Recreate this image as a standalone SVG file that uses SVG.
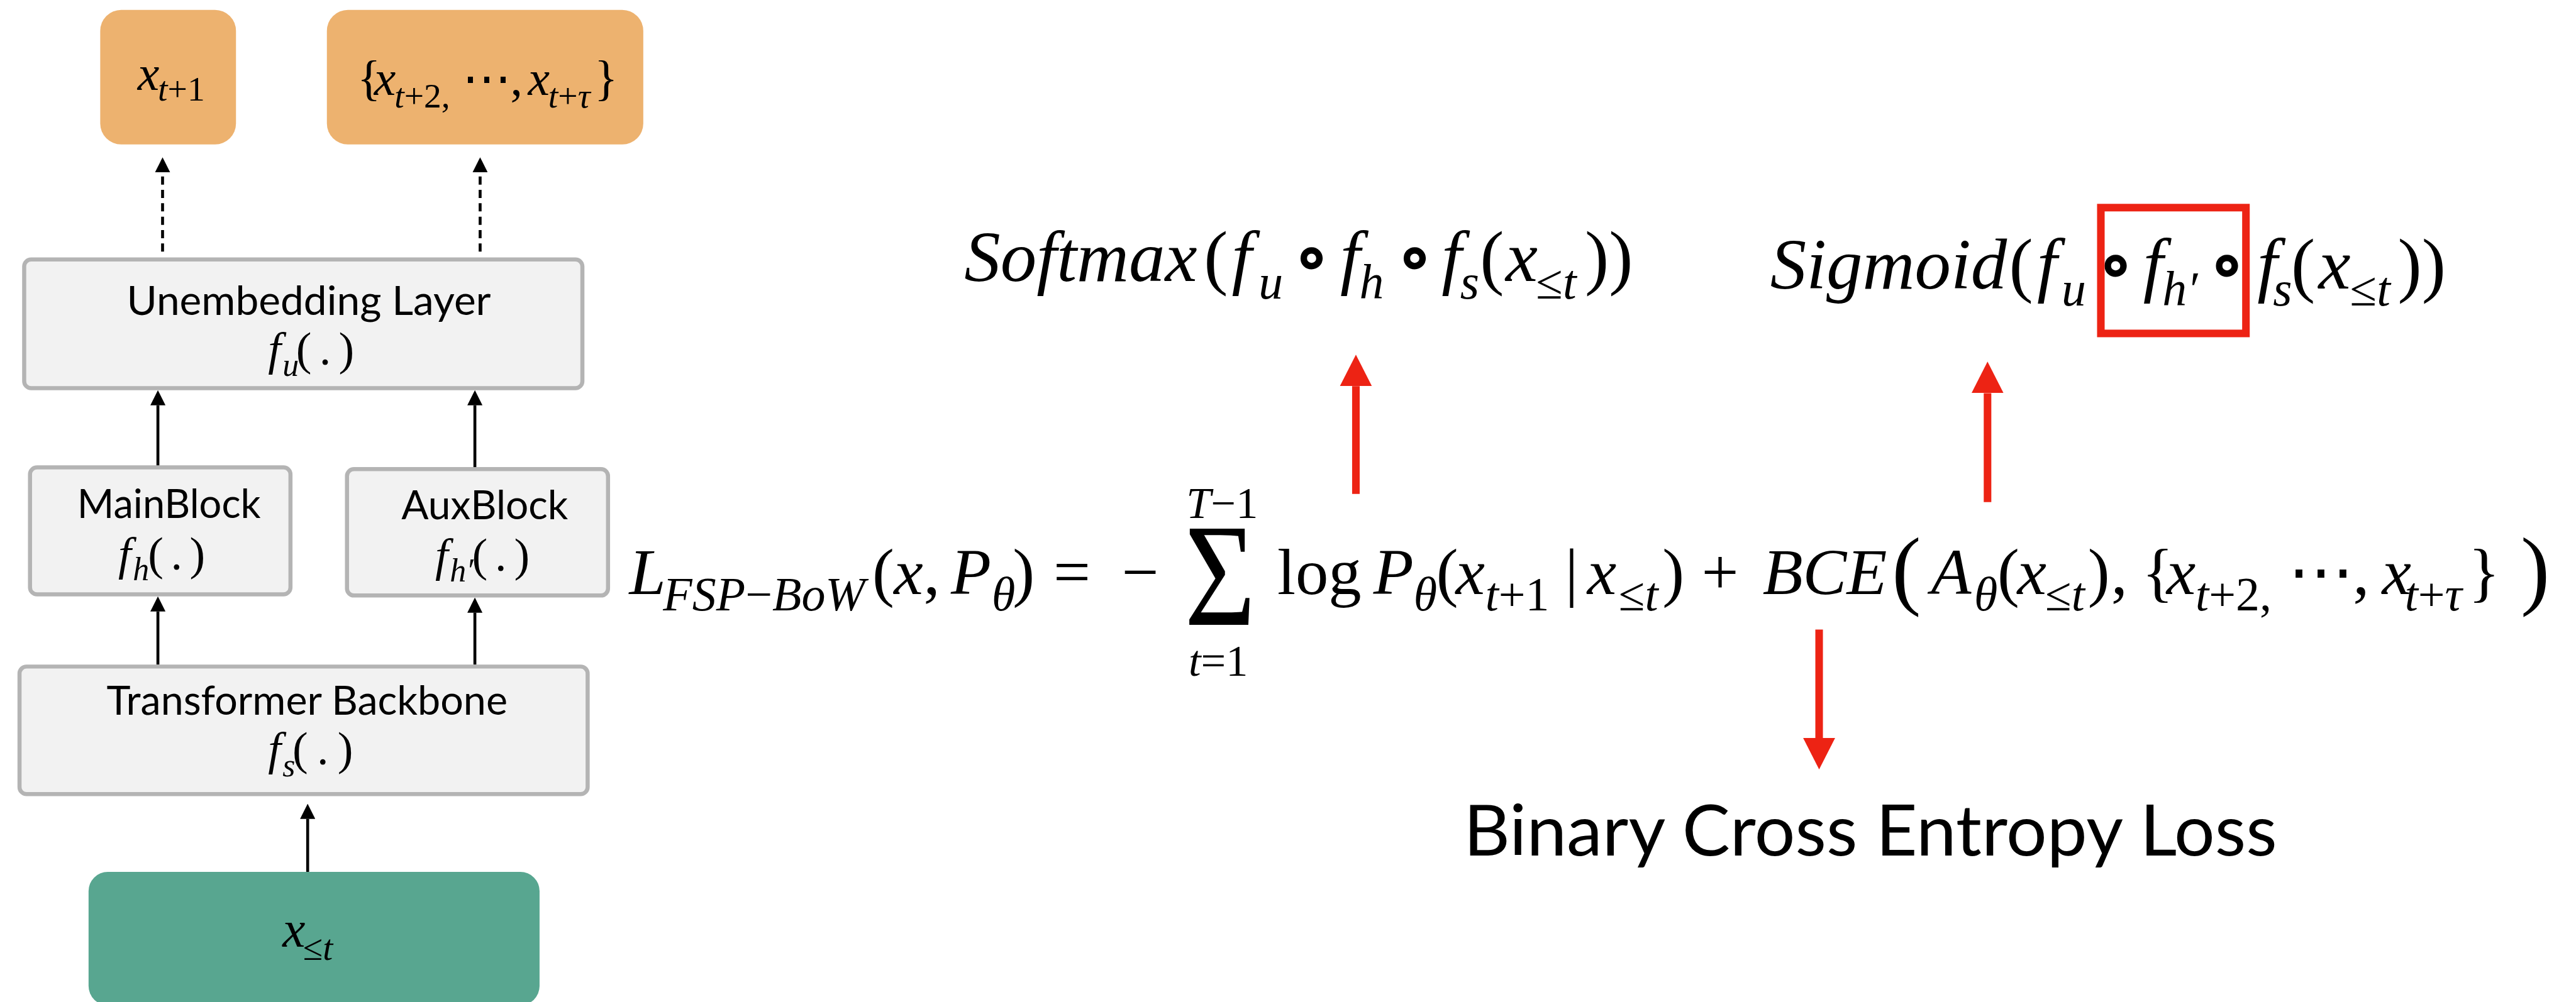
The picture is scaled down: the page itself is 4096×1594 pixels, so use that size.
<svg xmlns="http://www.w3.org/2000/svg" width="4096" height="1594" viewBox="0 0 4096 1594">
<style>
.box{fill:#F2F2F2;stroke:#B4B4B4;stroke-width:7}
.out{fill:#EDB26F}
.inp{fill:#58A690}
.sans{font-family:Lato,"Noto Sans","DejaVu Sans",sans-serif;fill:#000}
.m{font-family:"Liberation Serif","Times New Roman","DejaVu Serif",serif;fill:#000}
.i{font-style:italic}
.arr{stroke:#000;stroke-width:5;fill:none}
.dash{stroke-dasharray:14 9}
.red{stroke:#ED2314;stroke-width:13;fill:none}
</style>
<defs>
<marker id="ah" viewBox="0 0 26 26" refX="0" refY="13" markerWidth="26" markerHeight="26" markerUnits="userSpaceOnUse" orient="auto"><path d="M0,0 L26,13 L0,26 z" fill="#000"/></marker>
<marker id="rh" viewBox="0 0 54 55" refX="0" refY="27.5" markerWidth="54" markerHeight="55" markerUnits="userSpaceOnUse" orient="auto"><path d="M0,0 L54,27.5 L0,55 z" fill="#ED2314"/></marker>
</defs>
<rect width="4096" height="1594" fill="#fff"/>
<g transform="scale(0.9265)">
<g id="out-next">
<rect class="out" x="172" y="17" width="233" height="231" rx="36"/>
<text class="m" font-size="84" y="154"><tspan x="236" class="i">x</tspan></text>
<text class="m" font-size="60" y="173"><tspan x="271" class="i">t</tspan><tspan>+1</tspan></text>
</g>
<g id="out-bag">
<rect class="out" x="561" y="17" width="543" height="231" rx="36"/>
<text class="m" font-size="84" y="163"><tspan x="613">{</tspan><tspan x="642" class="i">x</tspan></text>
<text class="m" font-size="60" y="185"><tspan x="677" class="i">t</tspan><tspan>+2,</tspan></text>
<text class="m" font-size="84" x="835" y="163" text-anchor="middle">⋯</text>
<text class="m" font-size="84" y="163"><tspan x="876">,</tspan><tspan x="906" class="i">x</tspan></text>
<text class="m" font-size="60" y="185"><tspan x="941" class="i">t</tspan><tspan>+</tspan><tspan class="i">τ</tspan></text>
<text class="m" font-size="84" x="1020" y="163">}</text>
</g>
<g id="unembedding">
<rect class="box" x="41.5" y="445.5" width="958" height="221" rx="12"/>
<text class="sans" style="font-size:68px" x="530" y="541" text-anchor="middle" textLength="625" lengthAdjust="spacingAndGlyphs">Unembedding Layer</text>
<text class="m i" font-size="80" x="460" y="626">f</text>
<text class="m i" font-size="56" x="485" y="645">u</text>
<text class="m" font-size="80" x="508" y="626" textLength="100" lengthAdjust="spacing">( . )</text>
</g>
<g id="mainblock">
<rect class="box" x="51.5" y="802.5" width="447" height="218" rx="12"/>
<text class="sans" style="font-size:68px" x="290" y="889" text-anchor="middle" textLength="315" lengthAdjust="spacingAndGlyphs">MainBlock</text>
<text class="m i" font-size="80" x="203" y="978">f</text>
<text class="m i" font-size="56" x="228" y="996">h</text>
<text class="m" font-size="80" x="254" y="978" textLength="98" lengthAdjust="spacing">( . )</text>
</g>
<g id="auxblock">
<rect class="box" x="595.5" y="805.5" width="448" height="217" rx="12"/>
<text class="sans" style="font-size:68px" x="832" y="892" text-anchor="middle" textLength="286" lengthAdjust="spacingAndGlyphs">AuxBlock</text>
<text class="m i" font-size="80" x="747" y="980">f</text>
<text class="m i" font-size="56" x="772" y="998">h′</text>
<text class="m" font-size="80" x="810" y="980" textLength="99" lengthAdjust="spacing">( . )</text>
</g>
<g id="backbone">
<rect class="box" x="33.5" y="1144.5" width="975" height="219" rx="12"/>
<text class="sans" style="font-size:68px" x="527" y="1227" text-anchor="middle" textLength="688" lengthAdjust="spacingAndGlyphs">Transformer Backbone</text>
<text class="m i" font-size="80" x="460" y="1313">f</text>
<text class="m i" font-size="56" x="485" y="1333">s</text>
<text class="m" font-size="80" x="502" y="1313" textLength="104" lengthAdjust="spacing">( . )</text>
</g>
<g id="input">
<rect class="inp" x="152" y="1497" width="774" height="229" rx="33"/>
<text class="m i" font-size="88" x="485" y="1625">x</text>
<text class="m" font-size="62" y="1648"><tspan x="520">≤</tspan><tspan class="i">t</tspan></text>
</g>
<g id="connectors">
<path class="arr dash" d="M279,432 L279,296" marker-end="url(#ah)"/>
<path class="arr dash" d="M824,432 L824,296" marker-end="url(#ah)"/>
<path class="arr" d="M271,799 L271,696" marker-end="url(#ah)"/>
<path class="arr" d="M815,802 L815,696" marker-end="url(#ah)"/>
<path class="arr" d="M271,1141 L271,1050" marker-end="url(#ah)"/>
<path class="arr" d="M815,1141 L815,1052" marker-end="url(#ah)"/>
<path class="arr" d="M528,1497 L528,1406" marker-end="url(#ah)"/>
<path class="red" d="M2327,848 L2327,663" marker-end="url(#rh)"/>
<path class="red" d="M3411,862 L3411,675" marker-end="url(#rh)"/>
<path class="red" d="M3122,1081 L3122,1267" marker-end="url(#rh)"/>
</g>
<g id="softmax-expr">
<text class="m" font-size="124" y="483"><tspan x="1655" class="i">Softmax</tspan><tspan x="2066">(</tspan><tspan x="2114" class="i">f</tspan><tspan x="2300" class="i">f</tspan><tspan x="2474" class="i">f</tspan><tspan x="2540">(</tspan><tspan x="2584" class="i">x</tspan><tspan x="2720">))</tspan></text>
<text class="m" font-size="84" y="513"><tspan x="2160" class="i">u</tspan><tspan x="2333" class="i">h</tspan><tspan x="2506" class="i">s</tspan><tspan x="2636">≤</tspan><tspan class="i">t</tspan></text>
<text class="m" font-size="124" y="483" text-anchor="middle" font-weight="bold"><tspan x="2251">∘</tspan><tspan x="2428">∘</tspan></text>
</g>
<g id="sigmoid-expr">
<text class="m" font-size="124" y="495"><tspan x="3038" class="i">Sigmoid</tspan><tspan x="3448">(</tspan><tspan x="3496" class="i">f</tspan><tspan x="3678" class="i">f</tspan><tspan x="3874" class="i">f</tspan><tspan x="3932">(</tspan><tspan x="3979" class="i">x</tspan><tspan x="4115">))</tspan></text>
<text class="m" font-size="84" y="525"><tspan x="3538" class="i">u</tspan><tspan x="3711" class="i">h′</tspan><tspan x="3901" class="i">s</tspan><tspan x="4033">≤</tspan><tspan class="i">t</tspan></text>
<text class="m" font-size="124" y="495" text-anchor="middle" font-weight="bold"><tspan x="3631">∘</tspan><tspan x="3822">∘</tspan></text>
<rect x="3605.5" y="356.5" width="249" height="216" fill="none" stroke="#ED2314" stroke-width="13"/>
</g>
<g id="loss-eq">
<text class="m" font-size="113" y="1020"><tspan x="1080" class="i">L</tspan><tspan x="1497">(</tspan><tspan x="1534" class="i">x</tspan><tspan x="1585">,</tspan><tspan x="1632" class="i">P</tspan><tspan x="1738">)</tspan><tspan x="1808">=</tspan><tspan x="1925">−</tspan><tspan x="2192">log</tspan><tspan x="2357" class="i">P</tspan><tspan x="2465">(</tspan><tspan x="2498" class="i">x</tspan><tspan x="2686">|</tspan><tspan x="2724" class="i">x</tspan><tspan x="2853">)</tspan><tspan x="2920">+</tspan><tspan x="3025" class="i">BCE</tspan><tspan x="3314" class="i">A</tspan><tspan x="3428">(</tspan><tspan x="3462" class="i">x</tspan><tspan x="3583">)</tspan><tspan x="3623">,</tspan><tspan x="3676">{</tspan><tspan x="3718" class="i">x</tspan><tspan x="4038">,</tspan><tspan x="4088" class="i">x</tspan><tspan x="4236">}</tspan></text>
<text class="m" font-size="82" y="1048"><tspan x="1138" class="i">FSP</tspan><tspan>−</tspan><tspan class="i">BoW</tspan><tspan x="1702" class="i">θ</tspan><tspan x="2426" class="i">θ</tspan><tspan x="2549" class="i">t</tspan><tspan>+1</tspan><tspan x="2778">≤</tspan><tspan class="i">t</tspan><tspan x="3388" class="i">θ</tspan><tspan x="3510">≤</tspan><tspan class="i">t</tspan><tspan x="3768" class="i">t</tspan><tspan>+2,</tspan><tspan x="4127" class="i">t</tspan><tspan>+</tspan><tspan class="i">τ</tspan></text>
<text class="m" font-size="113" x="3983" y="1020" text-anchor="middle">⋯</text>
<text class="m" font-size="251" x="2033" y="1073" textLength="122" lengthAdjust="spacingAndGlyphs">Σ</text>
<text class="m" font-size="76" y="889"><tspan x="2036" class="i">T</tspan><tspan>−1</tspan></text>
<text class="m" font-size="76" y="1160"><tspan x="2040" class="i">t</tspan><tspan>=1</tspan></text>
<text class="m" font-size="150" y="1027"><tspan x="3247">(</tspan><tspan x="4326">)</tspan></text>
</g>
<g id="bce-label">
<text class="sans" style="font-size:121px" x="2512" y="1469" textLength="1396" lengthAdjust="spacingAndGlyphs">Binary Cross Entropy Loss</text>
</g>
</g>
</svg>
